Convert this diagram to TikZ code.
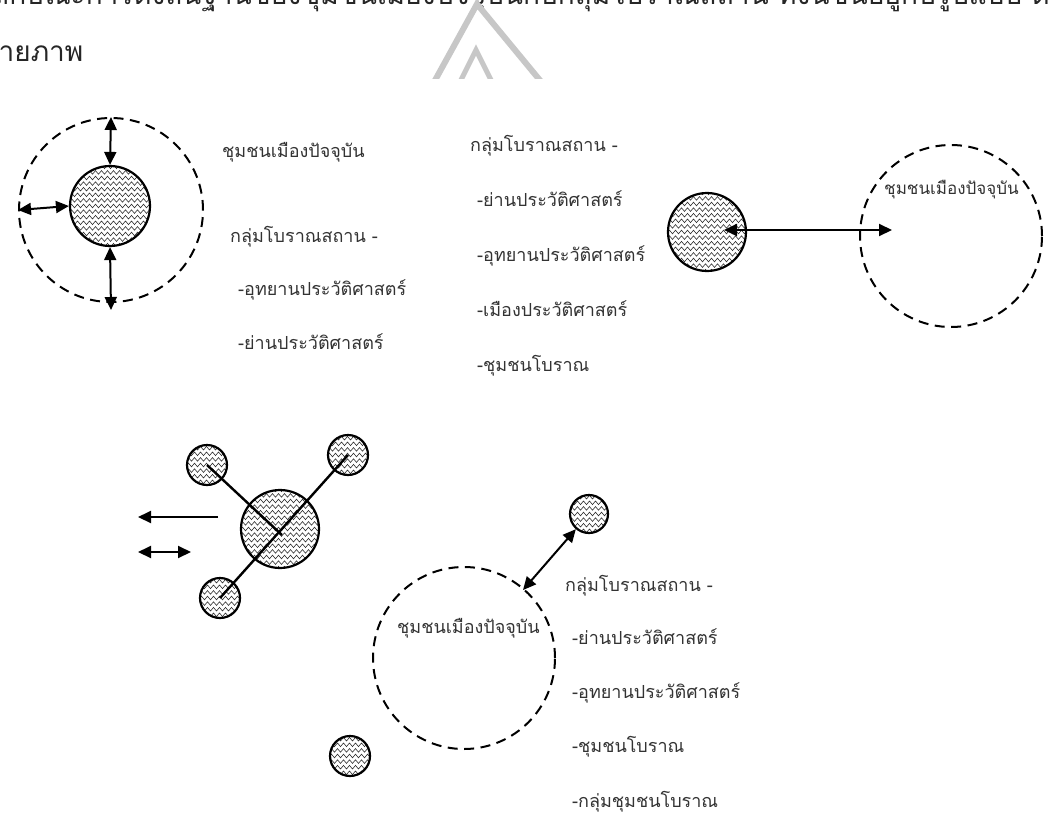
\documentclass[tikz,border=0pt]{standalone}
\usepackage{fontspec}
\newfontfamily\thai[Script=Thai]{Loma}
\usetikzlibrary{arrows.meta,decorations.pathmorphing}
\newcommand\zzfill[3]{%
  \begin{scope}
    \clip (#1,#2) circle[radius=#3pt];
    \fill[white] (#1,#2) circle[radius=#3pt];
    \foreach \k in {-8,...,8}
      \draw[zz] ({#1-#3-6},{#2+\k*5.6}) -- ({#1+#3+6},{#2+\k*5.6});
  \end{scope}}
\begin{document}
\begin{tikzpicture}[x=1pt,y=-1pt,
  lbl/.style={font=\thai\fontsize{18}{22}\selectfont, text=black!80, anchor=base west, inner sep=0pt},
  big/.style={font=\thai\fontsize{28}{32}\selectfont, text=black!85, anchor=base west, inner sep=0pt},
  dcirc/.style={circle, draw, dash pattern=on 10pt off 6.5pt, line width=2pt, inner sep=0pt},
  hc/.style={circle, draw, line width=2.2pt, inner sep=0pt},
  zz/.style={line width=0.6pt, black!80, decorate, decoration={zigzag, segment length=6pt, amplitude=1.8pt}},
  arr/.style={line width=2pt, {Triangle[length=13pt,width=12pt]}-{Triangle[length=13pt,width=12pt]}},
  sarr/.style={line width=2pt, -{Triangle[length=13pt,width=12pt]}},
  link/.style={line width=2.4pt},
  wm/.style={line width=6pt, draw=black!22}
]
\useasboundingbox (0,0) rectangle (1049,819);
\fill[white] (0,0) rectangle (1049,819);

% top line of text, cut by the upper edge as in the reference
\begin{scope}
  \clip (0,0) rectangle (1049,20);
  \node[big] (topline) at (-8,5) {ลักษณะการตั้งถิ่นฐานของชุมชนเมืองปัจจุบันกับกลุ่มโบราณสถาน ทั้งนี้ขึ้นอยู่กับรูปแบบ ดังแสดงจากการวางแผนผังของพื้นที่ต่างๆ};
\end{scope}
\node[big] (tail) at (-20,61) {ท้ายภาพ};

% watermark
\begin{scope}
  \clip (0,0) rectangle (1049,78);
  \draw[wm] (433,84) -- (477,4) -- (543,84);
  \draw[wm, line width=5pt] (459,84) -- (476,50) -- (493,84);
\end{scope}

% ---------- diagram 1 ----------
\node[dcirc, minimum size=184pt] (d1) at (111,210) {};
\zzfill{110}{206}{40}
\node[hc, minimum size=80pt] (c1) at (110,206) {};
\draw[arr] (d1.north) -- (c1.north);
\draw[arr] (d1.west) -- (c1.west);
\draw[arr] (c1.south) -- ([yshift=-7pt]d1.south);
\node[lbl] (t11) at (222,157) {ชุมชนเมืองปัจจุบัน};
\node[lbl] (t12) at (230,242) {กลุ่มโบราณสถาน -};
\node[lbl] (t13) at (238,295) {-อุทยานประวัติศาสตร์};
\node[lbl] (t14) at (238,349) {-ย่านประวัติศาสตร์};

% ---------- diagram 2 ----------
\node[lbl] (t21) at (470,151) {กลุ่มโบราณสถาน -};
\node[lbl] (t22) at (477,206) {-ย่านประวัติศาสตร์};
\node[lbl] (t23) at (477,261) {-อุทยานประวัติศาสตร์};
\node[lbl] (t24) at (477,316) {-เมืองประวัติศาสตร์};
\node[lbl] (t25) at (477,371) {-ชุมชนโบราณ};
\node[dcirc, minimum size=182pt] (d2) at (951,236) {};
\zzfill{707}{232}{39}
\node[hc, minimum size=78pt] (c2) at (707,232) {};
\coordinate (a2l) at (724,230);
\coordinate (a2r) at (892,230);
\draw[arr] (a2l) -- (a2r);
\node[lbl, font=\thai\fontsize{17}{21}\selectfont] (t26) at (884,194) {ชุมชนเมืองปัจจุบัน};

% ---------- diagram 3 ----------
\zzfill{280}{529}{39}
\node[hc, minimum size=78pt] (b3) at (280,529) {};
\zzfill{207}{465}{20}
\node[hc, minimum size=40pt] (s1) at (207,465) {};
\zzfill{348}{455}{20}
\node[hc, minimum size=40pt] (s2) at (348,455) {};
\zzfill{220}{598}{20}
\node[hc, minimum size=40pt] (s3) at (220,598) {};
\draw[link] (s1.center) -- ([shift={(2pt,-6pt)}]b3.center);
\draw[link] (s3.center) -- (s2.center);
\coordinate (l1a) at (218,517);
\coordinate (l1b) at (138,517);
\draw[sarr] (l1a) -- (l1b);
\coordinate (l2a) at (138,552);
\coordinate (l2b) at (191,552);
\draw[arr] (l2a) -- (l2b);

\node[dcirc, minimum size=182pt] (d3) at (464,658) {};
\node[lbl] (t31) at (397,633) {ชุมชนเมืองปัจจุบัน};
\zzfill{589}{514}{19}
\node[hc, minimum size=38pt] (s4) at (589,514) {};
\zzfill{350}{756}{20}
\node[hc, minimum size=40pt] (s5) at (350,756) {};
\draw[arr, shorten >=-2pt] (s4) -- (d3);
\node[lbl] (t32) at (565,591) {กลุ่มโบราณสถาน -};
\node[lbl] (t33) at (572,644) {-ย่านประวัติศาสตร์};
\node[lbl] (t34) at (572,698) {-อุทยานประวัติศาสตร์};
\node[lbl] (t35) at (572,752) {-ชุมชนโบราณ};
\node[lbl] (t36) at (572,807) {-กลุ่มชุมชนโบราณ};
\end{tikzpicture}
\end{document}
